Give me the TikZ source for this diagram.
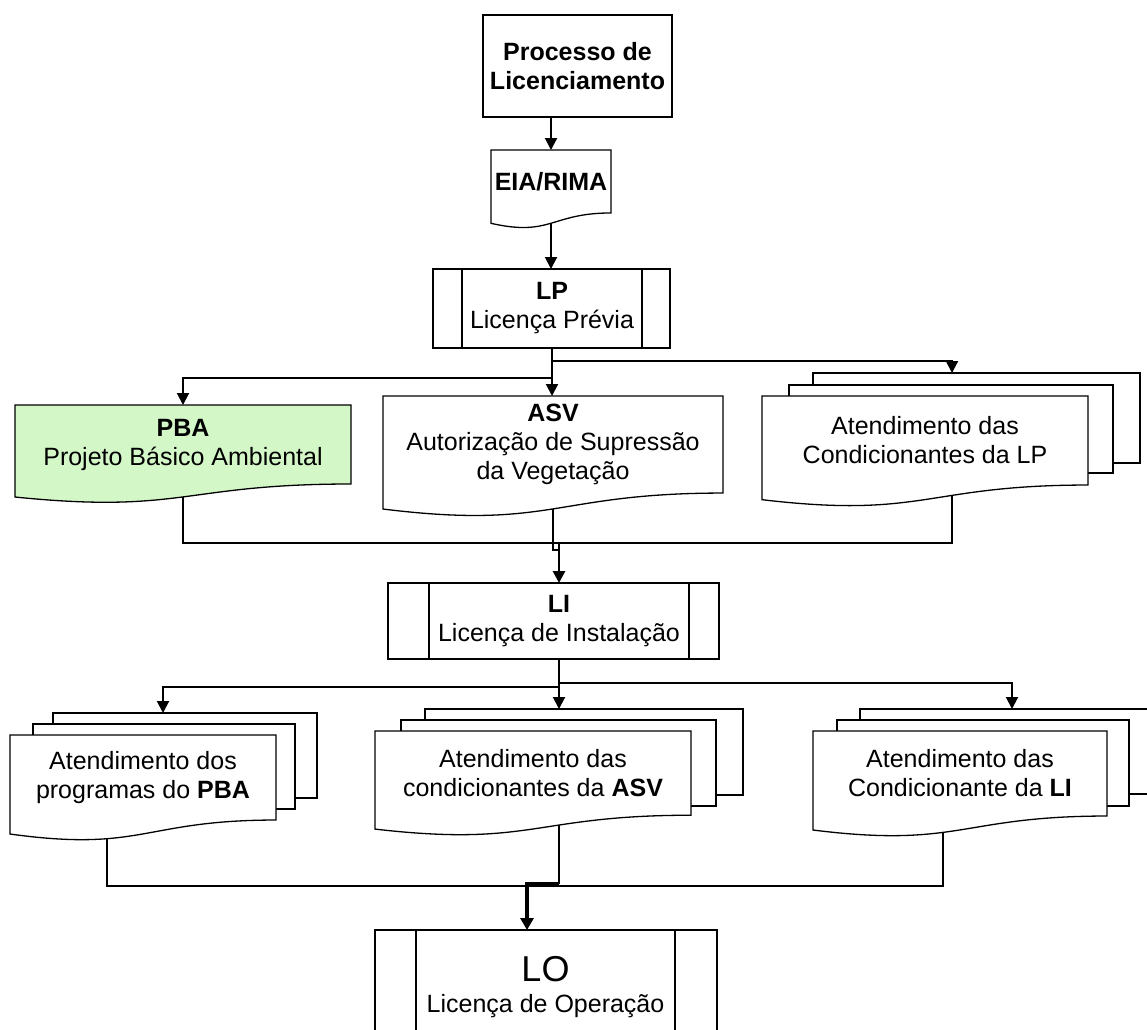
\documentclass[tikz,border=0pt]{standalone}
\usepackage{fontspec}
\setmainfont{Liberation Sans}
\usetikzlibrary{arrows.meta,calc}
\pgfdeclarelayer{conn}
\pgfdeclarelayer{shapes}
\pgfsetlayers{conn,shapes,main}
\definecolor{pbagreen}{RGB}{212,247,200}
\tikzset{
  shapeline/.style={draw=black, line width=1.3pt, line join=miter},
  txt/.style={font=\fontsize{25}{29}\selectfont},
  docbox/.style={draw=none, inner sep=0pt, outer sep=0pt, align=center, txt},
  sheetbox/.style={draw=none, inner sep=0pt, outer sep=0pt},
  procbox/.style={draw=black, line width=1.3pt, fill=white, inner sep=0pt, outer sep=0pt, align=center, txt},
  conn/.style={draw=black, line width=2pt, line join=miter},
  arr/.style={conn, -{Triangle[width=12pt,length=12pt]}},
  thickarr/.style={draw=black, line width=3.2pt, line join=miter, -{Triangle[width=13pt,length=12pt]}},
}
% document shape: name, x1, y1, x2, h, fill, text
\newcommand\docnode[7]{%
  \node[docbox, minimum width={#4-#2}, minimum height={0.802*#5}] (#1) at ({(#2+#4)/2},{#3+0.401*#5}) {#7};
  \begin{pgfonlayer}{shapes}
    \draw[shapeline, fill=#6] (#1.north west) -- (#1.north east) -- (#1.south east)
      .. controls (#1.south) and ($(#1.north)!1.381!(#1.south)$) ..
      ($(#1.north west)!1.1646!(#1.south west)$) -- cycle;
  \end{pgfonlayer}}
% stacked back sheet: name, x1, y1, x2, y2
\newcommand\sheetnode[5]{%
  \node[sheetbox, minimum width={#4-#2}, minimum height={#5-#3}] (#1) at ({(#2+#4)/2},{(#3+#5)/2}) {};
  \begin{pgfonlayer}{shapes}
    \draw[shapeline, fill=white] (#1.north west) rectangle (#1.south east);
  \end{pgfonlayer}}
% predefined process: name, x1, y1, x2, y2, inner left, inner right, text
\newcommand\procnode[8]{%
  \draw[shapeline, fill=white] (#2,#3) rectangle (#6,#5) (#7,#3) rectangle (#4,#5);
  \node[procbox, minimum width={#7-#6}, minimum height={#5-#3}] (#1) at ({(#6+#7)/2},{(#3+#5)/2}) {#8};}

\begin{document}
\begin{tikzpicture}[x=1pt,y=-1pt]
\path[use as bounding box] (0,0) rectangle (1147,1029);

% ---------- shapes ----------
\node[procbox, font={\fontsize{25}{29}\selectfont\bfseries}, minimum width=189, minimum height=102] (proc) at (577.5,66) {Processo de\\Licenciamento};
\docnode{eia}{491}{150}{611}{78.5}{white}{\bfseries EIA/RIMA}
\procnode{lp}{433}{269}{670}{348}{462}{642}{\textbf{LP}\\Licença Prévia}

\docnode{pba}{15}{405}{351}{98.5}{pbagreen}{\textbf{PBA}\\Projeto Básico Ambiental}
\docnode{asv}{383}{396}{723}{121}{white}{\textbf{ASV}\\Autorização de Supressão\\da Vegetação}
\sheetnode{lpcc}{813}{373}{1140}{463}
\sheetnode{lpcb}{789}{385}{1113}{473}
\docnode{lpca}{762}{396}{1088}{111}{white}{Atendimento das\\Condicionantes da LP}

\procnode{li}{388}{583}{719}{659}{429}{689}{\textbf{LI}\\Licença de Instalação}

\sheetnode{pbsc}{53}{713}{317}{798}
\sheetnode{pbsb}{33}{724}{295}{809}
\docnode{pbsa}{10}{735}{276}{106}{white}{Atendimento dos\\programas do \textbf{PBA}}

\sheetnode{asc}{425}{709}{743}{795}
\sheetnode{asb}{401}{720}{716}{806}
\docnode{asa}{375}{731}{691}{105}{white}{Atendimento das\\condicionantes da \textbf{ASV}}

\sheetnode{lic}{860}{709}{1165}{794}
\sheetnode{lib}{837}{720}{1129}{806}
\docnode{lia}{813}{731}{1107}{106}{white}{Atendimento das\\Condicionante da \textbf{LI}}

\procnode{lo}{375}{930}{717}{1045}{416}{675}{{\fontsize{36}{38}\selectfont LO}\\[2pt]{\fontsize{25}{29}\selectfont Licença de Operação}}

% ---------- junction coordinates ----------
\coordinate (jLPa) at (0,378);
\coordinate (jLPb) at (0,361);
\coordinate (xLPC) at (952,0);
\coordinate (jA) at (0,543);
\coordinate (jSq) at (0,550);
\coordinate (jLIa) at (0,687);
\coordinate (jLIb) at (0,683);
\coordinate (xPBSin) at (163,0);
\coordinate (xLIin) at (1012,0);
\coordinate (xPBSout) at (107,0);
\coordinate (xLIout) at (943,0);
\coordinate (jB) at (0,886);
\coordinate (jB2) at (0,884);
\coordinate (xLO) at (527,0);

% ---------- connectors ----------
\begin{pgfonlayer}{conn}
\draw[arr] (eia.north |- proc.south) -- (eia.north);
\draw[arr] (eia.center) -- (eia.center |- lp.north);

\draw[arr] (lp.south) -- (lp.south |- jLPa) -| (pba.north);
\draw[arr] (lp.south |- jLPa) -- (lp.south |- asv.north);
\draw[arr] (lp.south |- jLPb) -| (xLPC |- lpcc.north);

\draw[conn] (pba.center) -- (pba.center |- jA) -- (xLPC |- jA) -- (xLPC |- lpca.center);
\draw[conn] (asv.center) -- (asv.center |- jSq) -- (li.north |- jSq);
\draw[arr, line width=2.8pt] (li.north |- jA) -- (li.north);

\draw[arr] (li.south) -- (li.south |- jLIa) -| (xPBSin |- pbsc.north);
\draw[arr] (li.south |- jLIa) -- (li.south |- asc.north);
\draw[arr] (li.south |- jLIb) -| (xLIin |- lic.north);

\draw[conn] (xPBSout |- pbsa.center) -- (xPBSout |- jB) -- (xLIout |- jB) -- (xLIout |- lia.center);
\draw[conn] (li.south |- asa.center) -- (li.south |- jB2);
\draw[thickarr] (li.south |- jB2) -- (xLO |- jB2) -- (xLO |- lo.north);
\end{pgfonlayer}
\end{tikzpicture}
\end{document}
